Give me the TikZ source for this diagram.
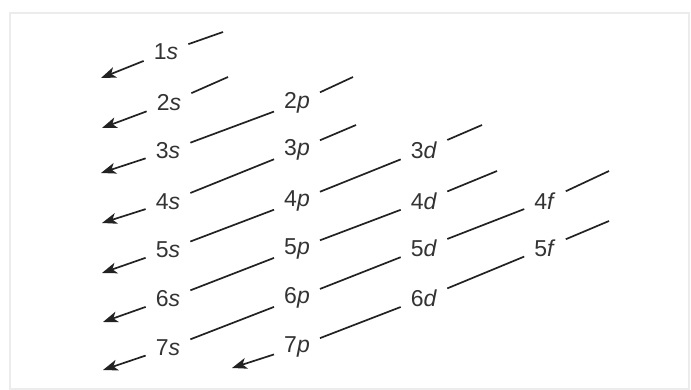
\documentclass[tikz,border=0pt]{standalone}
\usepackage{fontspec}
\setmainfont{Liberation Sans}
\usetikzlibrary{arrows.meta}
\definecolor{ink}{HTML}{222222}
\definecolor{txt}{HTML}{333333}
\begin{document}
\begin{tikzpicture}[x=1pt,y=-1pt,
  orb/.style={inner xsep=10pt, inner ysep=6pt, text=txt, font=\fontsize{23}{25}\selectfont},
  ln/.style={draw=ink, line width=1.7pt},
  arr/.style={ln, -{Stealth[length=15pt,width=11pt,inset=4pt]}}]
\useasboundingbox (0,0) rectangle (691,390);
\draw[gray!15, line width=1.6pt] (10,13) rectangle (689,389);
% labels
\node[orb] (1s) at (166,52) {1\textit{s}};
\node[orb] (2s) at (169,103) {2\textit{s}};
\node[orb] (3s) at (168,151) {3\textit{s}};
\node[orb] (4s) at (168,202) {4\textit{s}};
\node[orb] (5s) at (168,250) {5\textit{s}};
\node[orb] (6s) at (168,299) {6\textit{s}};
\node[orb] (7s) at (168,348) {7\textit{s}};
\node[orb] (2p) at (297,103) {2\textit{p}};
\node[orb] (3p) at (297,150) {3\textit{p}};
\node[orb] (4p) at (297,201) {4\textit{p}};
\node[orb] (5p) at (297,249) {5\textit{p}};
\node[orb] (6p) at (297,298) {6\textit{p}};
\node[orb] (7p) at (297,347) {7\textit{p}};
\node[orb] (3d) at (424,150) {3\textit{d}};
\node[orb] (4d) at (424,201) {4\textit{d}};
\node[orb] (5d) at (424,248) {5\textit{d}};
\node[orb] (6d) at (424,298) {6\textit{d}};
\node[orb] (4f) at (545,201) {4\textit{f}};
\node[orb] (5f) at (545,248) {5\textit{f}};
% free ends of short lines
\coordinate (t1s) at (223,32);
\coordinate (t2s) at (228,77);
\coordinate (t2p) at (353,77);
\coordinate (t3p) at (356,125);
\coordinate (t3d) at (482,125);
\coordinate (t4d) at (497,171);
\coordinate (t4f) at (609,171);
\coordinate (t5f) at (609,221);
% arrow tips
\coordinate (a1) at (101,78);
\coordinate (a2) at (102,128);
\coordinate (a3) at (101,173);
\coordinate (a4) at (102,223);
\coordinate (a5) at (102,273);
\coordinate (a6) at (103,322);
\coordinate (a7) at (103,370);
\coordinate (a7p) at (232,368);
% short lines
\foreach \n in {1s,2s,2p,3p,3d,4d,4f,5f} \draw[ln] (\n) -- (t\n);
% long lines
\draw[ln] (2p) -- (3s);
\draw[ln] (3p) -- (4s);
\draw[ln] (3d) -- (4p);
\draw[ln] (4p) -- (5s);
\draw[ln] (4d) -- (5p);
\draw[ln] (5p) -- (6s);
\draw[ln] (4f) -- (5d);
\draw[ln] (5d) -- (6p);
\draw[ln] (6p) -- (7s);
\draw[ln] (5f) -- (6d);
\draw[ln] (6d) -- (7p);
% arrows
\draw[arr] (1s) -- (a1);
\draw[arr] (2s) -- (a2);
\draw[arr] (3s) -- (a3);
\draw[arr] (4s) -- (a4);
\draw[arr] (5s) -- (a5);
\draw[arr] (6s) -- (a6);
\draw[arr] (7s) -- (a7);
\draw[arr] (7p) -- (a7p);
\end{tikzpicture}
\end{document}
